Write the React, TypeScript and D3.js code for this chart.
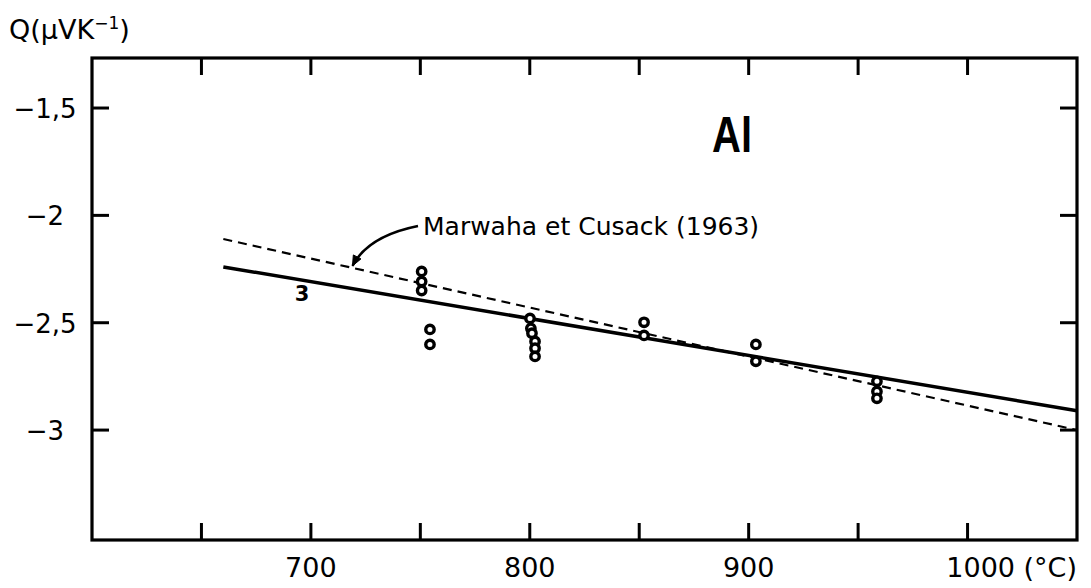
import React from "react";
import * as d3 from "d3";

// ---- data ----
const xTicks = [650, 700, 750, 800, 850, 900, 950, 1000];
const xTickLabels = ["700", "800", "900", "1000 (°C)"];
const xTickLabelValues = [700, 800, 900, 1000];
const yTicks = [-1.5, -2, -2.5, -3];
const yTickLabels = ["\u22121,5", "\u22122", "\u22122,5", "\u22123"];

const measT = [750.6, 750.6, 750.6, 754.4, 754.4, 800.1, 800.5, 801, 802.4, 802.4, 802.4, 852.2, 852.2, 903.3, 903.3, 958.6, 958.6, 958.6];
const measQ = [-2.261, -2.308, -2.35, -2.531, -2.601, -2.48, -2.526, -2.549, -2.587, -2.619, -2.657, -2.498, -2.559, -2.601, -2.68, -2.773, -2.82, -2.852];

const oddT = [696];
const oddQ = [-2.36];

const fitT = [660, 1050];
const fitQ = [-2.24, -2.91];

const refT = [660, 1050];
const refQ = [-2.11, -3.0];

const refLabel = "Marwaha et Cusack (1963)";
const arrowT = 719;

const W = 1091;
const H = 588;
const FONT = "'DejaVu Sans', Verdana, sans-serif";

export default function App() {
  const x = d3.scaleLinear().domain([600, 1050]).range([92, 1077]);
  const y = d3.scaleLinear().domain([-1.267, -3.512]).range([58, 540]);
  const [x0, x1] = x.range();
  const [y0, y1] = y.range();

  const line = d3
    .line<[number, number]>()
    .x((d) => x(d[0]))
    .y((d) => y(d[1]));

  const fitData: [number, number][] = fitT.map((t, i) => [t, fitQ[i]]);
  const refData: [number, number][] = refT.map((t, i) => [t, refQ[i]]);
  const refAt = d3.scaleLinear().domain(refT).range(refQ);

  // annotation arrow
  const tipX = x(arrowT);
  const tipY = y(refAt(arrowT)) - 2;
  const startX = 418;
  const startY = 226;
  const ctrlX = 368;
  const ctrlY = 236;
  const arrowPath = `M${startX},${startY} Q${ctrlX},${ctrlY} ${tipX},${tipY}`;
  const ang = Math.atan2(tipY - ctrlY, tipX - ctrlX);
  const ah = 11;
  const a1 = ang + Math.PI - 0.4;
  const a2 = ang + Math.PI + 0.4;
  const headPath = `M${tipX},${tipY} L${tipX + ah * Math.cos(a1)},${tipY + ah * Math.sin(a1)} L${tipX + ah * Math.cos(a2)},${tipY + ah * Math.sin(a2)} Z`;

  const tickLen = 17;

  return (
    <svg
      width={W}
      height={H}
      style={{ position: "absolute", left: 0, top: 0, background: "#fff" }}
      fontFamily={FONT}
    >
      <rect x={0} y={0} width={W} height={H} fill="#fff" />

      {/* frame */}
      <rect x={x0} y={y0} width={x1 - x0} height={y1 - y0} fill="none" stroke="#000" strokeWidth={3.2} />

      {/* x ticks bottom and top */}
      {xTicks.map((t) => (
        <g key={"xt" + t}>
          <line x1={x(t)} x2={x(t)} y1={y1} y2={y1 - tickLen} stroke="#000" strokeWidth={3} />
          <line x1={x(t)} x2={x(t)} y1={y0} y2={y0 + tickLen} stroke="#000" strokeWidth={3} />
        </g>
      ))}

      {/* y ticks left and right */}
      {yTicks.map((v) => (
        <g key={"yt" + v}>
          <line x1={x0} x2={x0 + tickLen} y1={y(v)} y2={y(v)} stroke="#000" strokeWidth={3} />
          <line x1={x1} x2={x1 - tickLen} y1={y(v)} y2={y(v)} stroke="#000" strokeWidth={3} />
        </g>
      ))}

      {/* y tick labels */}
      {yTicks.map((v, i) => (
        <text key={"yl" + v} x={45} y={y(v) + 10} fontSize={26} textAnchor="middle" fill="#000">
          {yTickLabels[i]}
        </text>
      ))}

      {/* x tick labels */}
      {xTickLabelValues.map((t, i) =>
        i === xTickLabelValues.length - 1 ? (
          <text key={"xl" + t} x={x1} y={577} fontSize={27} textAnchor="end" fill="#000">
            {xTickLabels[i]}
          </text>
        ) : (
          <text key={"xl" + t} x={x(t)} y={577} fontSize={27} textAnchor="middle" fill="#000">
            {xTickLabels[i]}
          </text>
        )
      )}

      {/* y axis title */}
      <text x={9} y={39} fontSize={27} fill="#000">
        Q(μVK
        <tspan dy={-10} fontSize={17}>−1</tspan>
        <tspan dy={10}>)</tspan>
      </text>

      {/* Al label */}
      <g transform="translate(712,152) scale(0.8,1)">
        <text x={0} y={0} fontSize={50} fontWeight="bold" fontFamily="'Liberation Sans', Arial, sans-serif" fill="#000">
          Al
        </text>
      </g>

      {/* reference (dashed) line */}
      <path d={line(refData) || ""} fill="none" stroke="#000" strokeWidth={2.2} strokeDasharray="9,6" />

      {/* fit (solid) line */}
      <path d={line(fitData) || ""} fill="none" stroke="#000" strokeWidth={3.5} />

      {/* annotation */}
      <path d={arrowPath} fill="none" stroke="#000" strokeWidth={2.5} />
      <path d={headPath} fill="#000" stroke="#000" strokeWidth={1} />
      <text x={423} y={235} fontSize={25} fill="#000">
        {refLabel}
      </text>

      {/* measurement points */}
      {measT.map((t, i) => (
        <circle key={"p" + i} cx={x(t)} cy={y(measQ[i])} r={4.2} fill="#fff" stroke="#000" strokeWidth={3.4} />
      ))}

      {/* odd glyph point */}
      {oddT.map((t, i) => (
        <text key={"o" + i} x={x(t)} y={y(oddQ[i]) + 8} fontSize={21} fontWeight="bold" textAnchor="middle" fill="#000">
          3
        </text>
      ))}
    </svg>
  );
}
